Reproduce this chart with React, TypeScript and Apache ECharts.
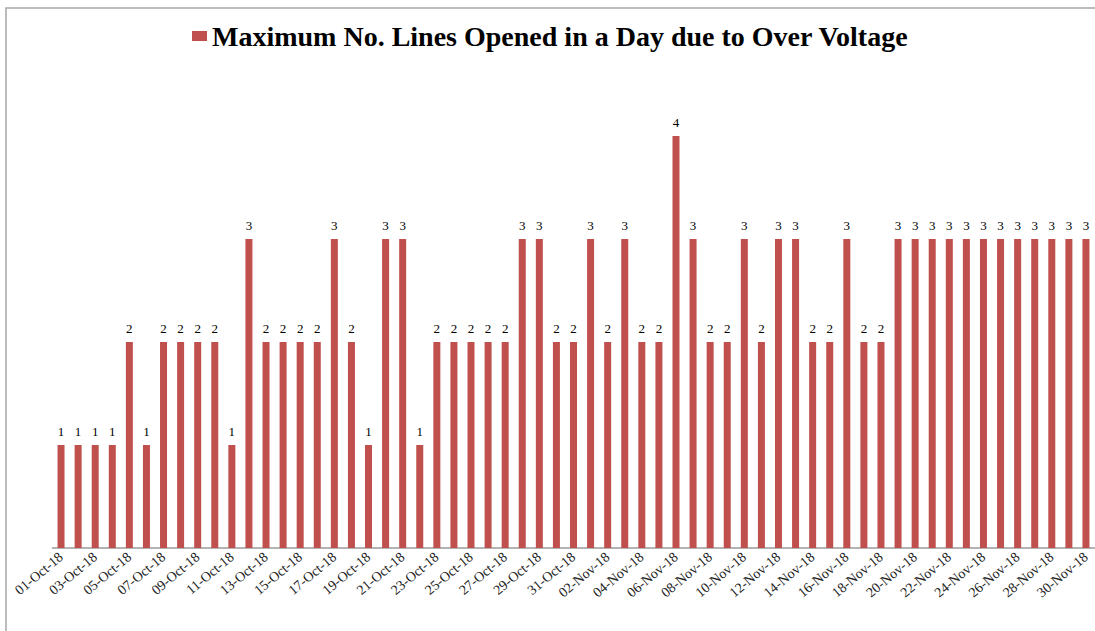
import React, { useEffect, useRef } from "react";
import * as echarts from "echarts";

const categories: string[] = [
  "01-Oct-18", "02-Oct-18", "03-Oct-18", "04-Oct-18", "05-Oct-18", "06-Oct-18", "07-Oct-18", "08-Oct-18",
  "09-Oct-18", "10-Oct-18", "11-Oct-18", "12-Oct-18", "13-Oct-18", "14-Oct-18", "15-Oct-18", "16-Oct-18",
  "17-Oct-18", "18-Oct-18", "19-Oct-18", "20-Oct-18", "21-Oct-18", "22-Oct-18", "23-Oct-18", "24-Oct-18",
  "25-Oct-18", "26-Oct-18", "27-Oct-18", "28-Oct-18", "29-Oct-18", "30-Oct-18", "31-Oct-18",
  "01-Nov-18", "02-Nov-18", "03-Nov-18", "04-Nov-18", "05-Nov-18", "06-Nov-18", "07-Nov-18", "08-Nov-18",
  "09-Nov-18", "10-Nov-18", "11-Nov-18", "12-Nov-18", "13-Nov-18", "14-Nov-18", "15-Nov-18", "16-Nov-18",
  "17-Nov-18", "18-Nov-18", "19-Nov-18", "20-Nov-18", "21-Nov-18", "22-Nov-18", "23-Nov-18", "24-Nov-18",
  "25-Nov-18", "26-Nov-18", "27-Nov-18", "28-Nov-18", "29-Nov-18", "30-Nov-18",
];

const octoberValues: number[] = [
  1, 1, 1, 1, 2, 1, 2, 2, 2, 2, 1, 3, 2, 2, 2, 2, 3, 2, 1, 3, 3, 1, 2, 2, 2, 2, 2, 3, 3, 2, 2,
];
const novemberValues: number[] = [
  3, 2, 3, 2, 2, 4, 3, 2, 2, 3, 2, 3, 3, 2, 2, 3, 2, 2, 3, 3, 3, 3, 3, 3, 3, 3, 3, 3, 3, 3,
];

const seriesName = "Maximum No. Lines Opened in a Day due to Over Voltage";
const SERIF = "'Times New Roman', 'Liberation Serif', serif";

export default function App() {
  const ref = useRef<HTMLDivElement>(null);
  useEffect(() => {
    if (!ref.current) return;
    const chart = echarts.init(ref.current, undefined, { renderer: "svg" });
    const values = [...octoberValues, ...novemberValues];
    chart.setOption({
      animation: false,
      backgroundColor: "#ffffff",
      graphic: [
        {
          type: "rect",
          shape: { x: 6, y: 8, width: 1200, height: 700 },
          style: { fill: "none", stroke: "#a6a6a6", lineWidth: 1.5 },
          silent: true,
        },
      ],
      legend: {
        show: true,
        top: 17,
        left: 187,
        itemWidth: 15,
        itemHeight: 10,
        itemGap: 6,
        textStyle: {
          fontFamily: SERIF,
          fontWeight: "bold",
          fontSize: 28,
          color: "#000000",
        },
        data: [{ name: seriesName, icon: "rect" }],
      },
      grid: {
        left: 52.5,
        right: 0.5,
        top: 33,
        bottom: 83,
        containLabel: false,
      },
      xAxis: {
        type: "category",
        data: categories,
        axisLine: { show: true, lineStyle: { color: "#9a9a9a", width: 1.5 } },
        axisTick: { show: false },
        axisLabel: {
          interval: 1,
          rotate: 40,
          margin: 7,
          fontFamily: SERIF,
          fontSize: 14,
          color: "#222222",
        },
      },
      yAxis: {
        type: "value",
        min: 0,
        max: 5,
        show: false,
        splitLine: { show: false },
      },
      series: [
        {
          name: seriesName,
          type: "bar",
          data: values,
          barWidth: 7,
          itemStyle: { color: "#c0504d" },
          label: {
            show: true,
            position: "top",
            distance: 7,
            fontFamily: SERIF,
            fontSize: 13,
            color: "#000000",
          },
        },
      ],
    });
    return () => chart.dispose();
  }, []);
  return (
    <div
      ref={ref}
      style={{ position: "absolute", left: 0, top: 0, width: 1095, height: 631, overflow: "hidden" }}
    />
  );
}
